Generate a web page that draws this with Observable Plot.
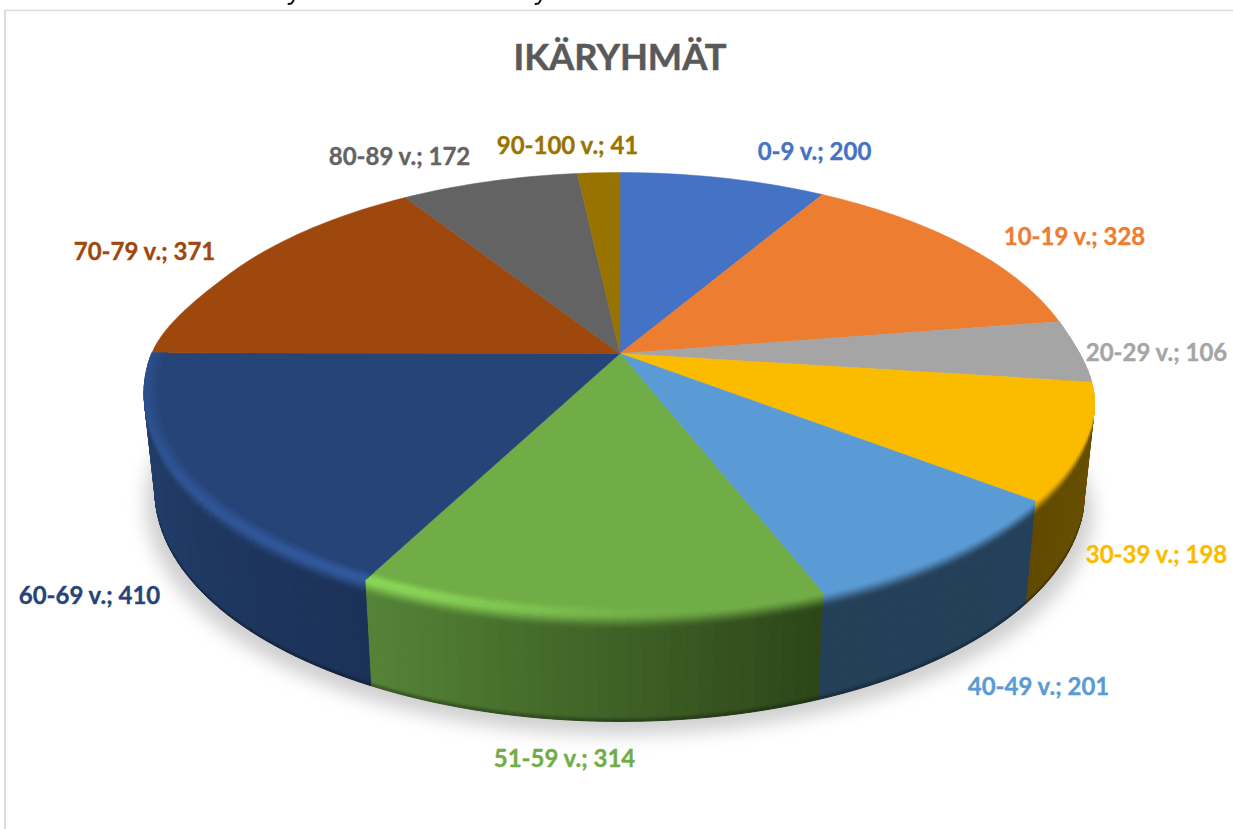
<!DOCTYPE html>
<html lang="fi">
<head>
<meta charset="utf-8">
<script src="https://cdn.jsdelivr.net/npm/d3@7"></script>
<script src="https://cdn.jsdelivr.net/npm/@observablehq/plot@0.6"></script>
<style>html,body{margin:0;padding:0;background:#fff;overflow:hidden}svg{display:block}</style>
</head>
<body>
<div id="chart"></div>
<script>
// ---- data ----
const ageGroups = ["0-9 v.", "10-19 v.", "20-29 v.", "30-39 v.", "40-49 v.", "51-59 v.", "60-69 v.", "70-79 v.", "80-89 v.", "90-100 v."];
const counts = [200, 328, 106, 198, 201, 314, 410, 371, 172, 41];
const chartTitle = "IKÄRYHMÄT";

// ---- styling ----
const faceColors = ["#4472c4", "#ed7d31", "#a5a5a5", "#fbbc00", "#5b9bd5", "#70ad47", "#264478", "#9e480e", "#636363", "#997300"];
const sideStart = ["#2a4678", "#8f4b1d", "#55585a", "#6b5200", "#24405a", "#2c4518", "#1b3158", "#5f2b08", "#3c3c3c", "#5c4500"];
const sideEnd = ["#2a4678", "#8f4b1d", "#6a6a6a", "#614a00", "#243f58", "#558437", "#24426f", "#5f2b08", "#3c3c3c", "#5c4500"];
const labelX = [814, 1074, 1156, 1156, 1038, 564, 89, 144, 399, 567];
const labelY = [152, 237, 353, 555, 687, 759, 596, 252, 157, 146];

// ---- perspective of the pie disc ----
const cx = 619.5, cy = 353, a = 468.3, b = 213.4, k = 0.179;
const total = d3.sum(counts);
const ends = d3.cumsum(counts).map(c => c / total * 2 * Math.PI);
const starts = [0, ...ends.slice(0, -1)];
const smooth = t => { t = Math.max(0, Math.min(1, t)); return t * t * (3 - 2 * t); };
function rim(th, h = 0, r = 1) {
  const s = Math.sin(th), c = Math.cos(th), d = 1 + k * c;
  const narrow = s >= 0 ? smooth((c + .3) / .45) : smooth(c / .4);
  const x0 = a * s / d * r * (1 - .025 * narrow), y0 = -b * c / d * r;
  return [cx + x0 * (1 - .023 * h), cy + y0 + h * (95 - 13 * c)];
}
function glow(th) {
  const deg = th * 180 / Math.PI;
  if (deg < 170 || deg > 285) return 0;
  return deg < 207 ? smooth((deg - 170) / 37) : 1 - .65 * (deg - 207) / 78;
}
const sideColor = (i, t) => d3.interpolateRgb(sideStart[i], sideEnd[i])(t);
const lit = (i, th) => d3.color(faceColors[i]).brighter((i === 6 ? .8 : .62) * glow(th)).formatHex();

// ---- polygons built from the counts ----
const stepAngle = 1.5 * Math.PI / 180;
const bevelBands = d3.range(8).map(j => [j * .02, (j + 1) * .02]);
const sideBands = [...bevelBands, [.16, .96], [.96, .975], [.975, .99], [.99, 1]];
const innerBands = d3.range(6).map(j => [.965 + j * .00583, .965 + (j + 1) * .00583]);
const backPolys = [], facePolys = [], innerPolys = [];
counts.forEach((_, i) => {
  const n = Math.max(1, Math.ceil((ends[i] - starts[i]) / stepAngle));
  const angle = j => starts[i] + (ends[i] - starts[i]) * j / n;
  const wedge = [[cx, cy]];
  for (let j = 0; j <= n; j++) wedge.push(rim(angle(j)));
  wedge.push([cx, cy]);
  facePolys.push({points: wedge, color: faceColors[i], order: 0});
  for (let j = 0; j < n; j++) {
    const t0 = angle(j), t1 = angle(j + 1), tm = (t0 + t1) / 2;
    const c = Math.cos(tm);
    if (c > (Math.sin(tm) >= 0 ? .16 : 0)) continue;
    const side = sideColor(i, (j + .5) / n);
    const hi = lit(i, tm);
    for (const [h0, h1] of sideBands) {
      const hm = (h0 + h1) / 2;
      let col = side;
      if (h1 <= .16) col = d3.interpolateRgb(hi, side)(smooth(hm / .16));
      if (h0 >= .96) col = d3.interpolateRgb(side, "#000")((hm - .96) / .04 * .35);
      const p = rim(t0, h0);
      backPolys.push({points: [p, rim(t1, h0), rim(t1, h1), rim(t0, h1), p], color: col, order: -c});
    }
    if (glow(tm) > 0) {
      for (const [r0, r1] of innerBands) {
        const col = d3.interpolateRgb(faceColors[i], hi)(smooth(((r0 + r1) / 2 - .965) / .035));
        const p = rim(t0, 0, r0);
        innerPolys.push({points: [p, rim(t1, 0, r0), rim(t1, 0, r1), rim(t0, 0, r1), p], color: col, order: 0});
      }
    }
  }
});
backPolys.sort((p, q) => p.order - q.order);
const shadowRing = d3.range(0, 361, 3).map(d => {
  const [x, y] = rim(d * Math.PI / 180, 1);
  return {x: cx + (x - cx) * 1.02, y: y + 13};
});
const flat = list => list.flatMap((p, id) => p.points.map(([x, y]) => ({x, y, id, color: p.color})));
const polyMark = (list, w, blur) => Plot.line(flat(list), {x: "x", y: "y", z: "id", fill: "color", stroke: "color", strokeWidth: w, curve: "linear", imageFilter: blur});

const labels = ageGroups.map((g, i) => ({text: `${g}; ${counts[i]}`, x: labelX[i], y: labelY[i], color: faceColors[i]}));
const font = "Lato, 'Open Sans', sans-serif";
// remnants of a cropped line of text above the frame
const cropped = [
  {id: 0, x: 293, y: 0}, {id: 0, x: 291, y: 3}, {id: 0, x: 288, y: 3.6},
  {id: 1, x: 540, y: 0}, {id: 1, x: 538, y: 3}, {id: 1, x: 535, y: 3.6}
];

const plot = Plot.plot({
  width: 1233, height: 829,
  margin: 0,
  style: {background: "#fff"},
  x: {domain: [0, 1233], range: [0, 1233], axis: null},
  y: {domain: [0, 829], range: [0, 829], axis: null},
  color: {type: "identity"},
  marks: [
    Plot.ruleY([10], {x1: 4, x2: 1233, stroke: "#dcdcdc", strokeWidth: 1.5}),
    Plot.ruleX([4.5], {y1: 10, y2: 829, stroke: "#dcdcdc", strokeWidth: 2}),
    Plot.line(cropped, {x: "x", y: "y", z: "id", stroke: "#111", strokeWidth: 2}),
    Plot.line(shadowRing, {x: "x", y: "y", fill: "#cfcfcf", stroke: "none", imageFilter: "blur(9px)"}),
    polyMark(backPolys, 1, "blur(.5px)"),
    polyMark(facePolys, .5, "blur(.3px)"),
    polyMark(innerPolys, .8, "blur(.5px)"),
    Plot.text([chartTitle], {x: 619.5, y: 58, text: d => d, fontFamily: font, fontWeight: 700, fontSize: 36.3, fill: "#595959", stroke: "#595959", strokeWidth: .5}),
    Plot.text(labels, {x: "x", y: "y", text: "text", fill: "color", stroke: "color", strokeWidth: .35, fontFamily: font, fontWeight: 700, fontSize: 24})
  ]
});
document.getElementById("chart").append(plot);
</script>
</body>
</html>
